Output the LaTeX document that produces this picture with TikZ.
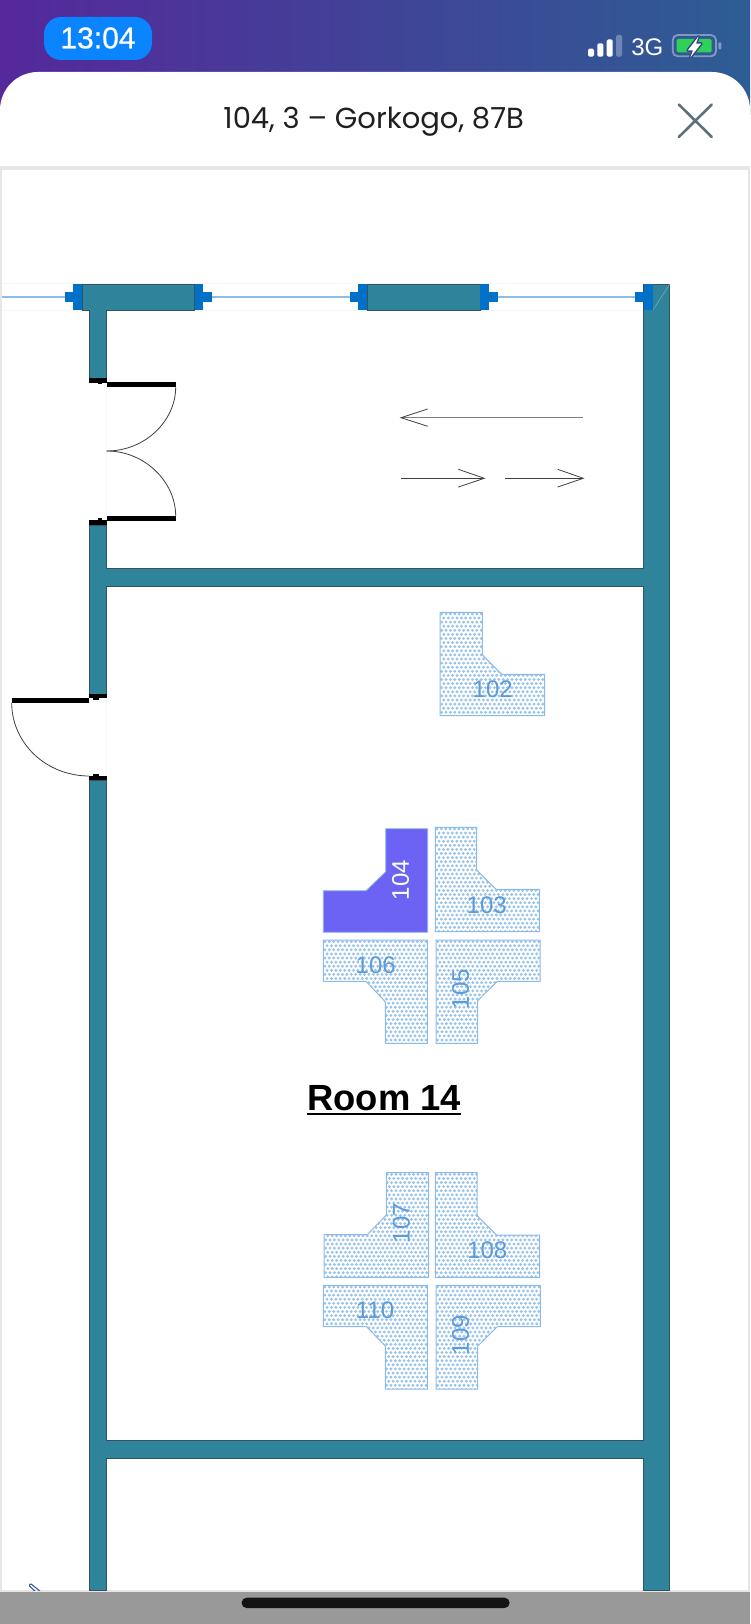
\documentclass[tikz,border=0pt]{standalone}
\usepackage{fontspec}
\setmainfont{Liberation Sans}
\newfontfamily\titlefont{Poppins}
\newfontfamily\clockfont[FakeBold=0.7]{Liberation Sans}
\definecolor{wallc}{HTML}{2F849B}
\definecolor{walle}{HTML}{35535E}
\definecolor{capc}{HTML}{0070C8}
\definecolor{wirec}{HTML}{8DBDE4}
\definecolor{deskdot}{HTML}{9AC3EC}
\definecolor{deske}{HTML}{8CBBE8}
\definecolor{desktxt}{HTML}{5B9BD9}
\definecolor{deskon}{HTML}{6C63F5}
\definecolor{framec}{HTML}{E6E6E6}
\definecolor{barc}{HTML}{999999}
\definecolor{faintc}{HTML}{F7F7F7}
\definecolor{xc}{HTML}{5A7278}
\definecolor{batc}{HTML}{8298C0}
\definecolor{gradl}{HTML}{55289B}
\definecolor{gradm}{HTML}{40408F}
\definecolor{gradr}{HTML}{2D5D94}
\definecolor{pillc}{HTML}{0A84FF}
\definecolor{greenc}{HTML}{30D158}
\definecolor{boltc}{HTML}{32468C}
\definecolor{markc}{HTML}{325FA0}
\definecolor{homec}{HTML}{141414}
\tikzset{
  x=1pt,y=-1pt,
  wallshape/.style={fill=wallc,draw=walle,line width=0.9pt},
  capshape/.style={fill=capc,draw=none},
  blackbar/.style={fill=black,draw=none},
  swing/.style={draw=black!75,line width=0.8pt},
  wire/.style={draw=wirec,line width=1.8pt},
  faint/.style={draw=faintc,line width=0.8pt},
  thinarrow/.style={draw=black!75,line width=0.8pt},
  deskedge/.style={draw=deske,line width=1pt},
  desklabel/.style={text=desktxt,font=\fontsize{24}{24}\selectfont,inner sep=0pt},
}
% #1 polygon, #2 x0, #3 y0, #4 x1, #5 y1
\newcommand{\deskdots}[5]{%
  \begin{scope}
    \clip #1;
    \foreach \i in {0,...,24}{
      \foreach \j in {0,...,26}{
        \pgfmathsetmacro{\px}{#2+1.6+\i*4.4+mod(\j,2)*2.2}
        \pgfmathsetmacro{\py}{#3+1.6+\j*4.1}
        \fill[deskdot] (\px,\py) circle[radius=1.6pt];
      }
    }
  \end{scope}
  \draw[deskedge] #1;
}
\begin{document}
\begin{tikzpicture}
\useasboundingbox (0,0) rectangle (750,1624);
\fill[white] (0,0) rectangle (750,1624);
% header
\shade[left color=gradl,middle color=gradm,right color=gradr] (0,0) rectangle (750,115);
\fill[white] (0,115) -- (0,110) .. controls (0,89) and (17,72) .. (38,72) -- (712,72) .. controls (733,72) and (750,89) .. (750,110) -- (750,115) -- cycle;
\fill[white] (0,110) rectangle (750,166);
% status bar
\fill[pillc,rounded corners=17pt] (44,17) rectangle (152,60);
\node[text=white,font=\clockfont\fontsize{30}{30}\selectfont,inner sep=0pt] (clock) at (98,38) {13:04};
\fill[white,rounded corners=1.5pt] (588,48.7) rectangle (594,56.7);
\fill[white,rounded corners=1.5pt] (597.3,43.3) rectangle (603.3,56.7);
\fill[white,rounded corners=1.5pt] (606.7,39.3) rectangle (612.7,56.7);
\fill[batc,rounded corners=1.5pt,opacity=0.75] (616,35) rectangle (622,56.7);
\node[text=white,font=\fontsize{24}{24}\selectfont,inner sep=0pt] (net) at (647.3,47.3) {3G};
\draw[batc,line width=1.8pt,rounded corners=5pt] (672.7,35) rectangle (716,56.3);
\fill[greenc,rounded corners=1.5pt] (676.7,39) rectangle (711.7,52.3);
\fill[batc,rounded corners=1pt] (718.3,42.3) rectangle (721.3,49.3);
\fill[white,preaction={draw=boltc,line width=3pt,line join=round}] (698.5,36.5) -- (687.8,50.4) -- (693,50.4) -- (690.3,57.5) -- (701.2,43.6) -- (696,43.6) -- cycle;
% title bar
\node[text=black!88,font=\titlefont\fontsize{29}{29}\selectfont,inner sep=0pt,anchor=base] (title) at (373.7,129) {104, 3 – Gorkogo, 87B};
\draw[xc,line width=2.6pt,line cap=round] (678.8,104.5) -- (711.8,137);
\draw[xc,line width=2.6pt,line cap=round] (711.8,104.5) -- (678.8,137);
% frame
\fill[framec] (0,166) rectangle (750,170);
\fill[framec] (0,170) rectangle (2,1590);
\fill[framec] (748,170) rectangle (750,1590);
\fill[framec] (0,1590) rectangle (750,1592);
% faint guide lines
\draw[faint] (2,283.5) -- (644,283.5);
\draw[faint] (2,310.5) -- (644,310.5);
\draw[faint] (106.7,385) -- (106.7,516);
\draw[faint] (106.7,700) -- (106.7,776);
% wire
\draw[wire] (2,296.7) -- (66,296.7);
\draw[wire] (212,296.7) -- (350,296.7);
\draw[wire] (497,296.7) -- (636,296.7);
% walls
\path[wallshape] (643.5,284) rectangle (669.8,1590);
\draw[wallc!70!white,line width=0.6pt] (653,310) -- (669.8,284);
\path[wallshape] (82.3,284) -- (194.7,284) -- (194.7,310) -- (106.7,310) -- (106.7,378) -- (89.3,378) -- (89.3,310) -- (82.3,310) -- cycle;
\path[wallshape] (367.5,284) rectangle (480,310);
\path[wallshape] (89.3,525) -- (106.7,525) -- (106.7,568.7) -- (643.5,568.7) -- (643.5,586.3) -- (106.7,586.3) -- (106.7,694) -- (89.3,694) -- cycle;
\path[wallshape] (89.3,1590) -- (89.3,780.3) -- (106.7,780.3) -- (106.7,1440.3) -- (643.5,1440.3) -- (643.5,1458.3) -- (106.7,1458.3) -- (106.7,1590) -- cycle;
\fill[wallc] (642.5,1441) rectangle (645,1458);
\fill[wallc] (642.5,569.3) rectangle (645,586);
% window caps
\path[capshape] (73.3,283.7) rectangle (82,310.3);
\path[capshape] (64.7,292.3) rectangle (73.3,301.7);
\path[capshape] (195,283.7) rectangle (203.3,310.3);
\path[capshape] (203.3,292.3) rectangle (212.3,301.7);
\path[capshape] (358,283.7) rectangle (367.2,310.3);
\path[capshape] (349.8,292.3) rectangle (358,301.7);
\path[capshape] (480.3,283.7) rectangle (488.5,310.3);
\path[capshape] (488.5,292.3) rectangle (497.6,301.7);
\path[capshape] (643.5,283.7) rectangle (653,310.3);
\path[capshape] (635,292.3) rectangle (643.5,301.7);
% doors
\path[blackbar] (89.3,378) rectangle (106.7,382.7);
\path[blackbar] (98.3,382) rectangle (102.3,384.3);
\path[blackbar] (106.7,382.3) rectangle (175.7,387);
\path[blackbar] (106.7,516) rectangle (175.7,520.7);
\path[blackbar] (89.3,520.3) rectangle (106.7,525);
\path[blackbar] (98,518.3) rectangle (102,521);
\draw[swing] (175.7,387) .. controls (175.7,421) and (145,451) .. (106.7,451);
\draw[swing] (175.7,516) .. controls (175.7,482) and (145,451) .. (106.7,451);
\path[blackbar] (89.3,694) rectangle (106.7,698.3);
\path[blackbar] (93.3,698) rectangle (98.7,700.3);
\path[blackbar] (11.7,698.3) rectangle (89.3,702.7);
\draw[swing] (11.7,702.7) .. controls (11.7,743) and (46,776) .. (89.3,776);
\path[blackbar] (89.3,776) rectangle (106.7,780.3);
\path[blackbar] (93.3,774.3) rectangle (98.7,776.5);
% arrows
\draw[thinarrow,draw=black!50,line width=1pt] (401,417.7) -- (583.3,417.7);
\draw[thinarrow] (427.7,409) -- (401,417.7) -- (427.7,426.3);
\draw[thinarrow] (401,478.3) -- (484.3,478.3);
\draw[thinarrow] (458.3,469.3) -- (484.3,478.3) -- (458.3,487);
\draw[thinarrow] (505,478.3) -- (583.3,478.3);
\draw[thinarrow] (557.7,469.3) -- (583.3,478.3) -- (557.7,487);
% desks
\deskdots{(440,612.3) -- (482.3,612.3) -- (482.3,655) -- (501.7,674.3) -- (544.7,674.3) -- (544.7,715.7) -- (440,715.7) -- cycle}{440}{612.3}{544.7}{715.7}
\node[desklabel] (d102) at (492.7,689) {102};
\deskdots{(435.3,827.3) -- (476.7,827.3) -- (476.7,870) -- (496,889.3) -- (539.3,889.3) -- (539.3,931.7) -- (435.3,931.7) -- cycle}{435.3}{827.3}{539.3}{931.7}
\node[desklabel] (d103) at (486.7,905) {103};
\fill[deskon] (427.7,828.7) -- (427.7,932.3) -- (323.3,932.3) -- (323.3,890.7) -- (366,890.7) -- (385.7,871.7) -- (385.7,828.7) -- cycle;
\draw[deske,line width=0.8pt] (427.7,828.7) -- (427.7,932.3) -- (323.3,932.3) -- (323.3,890.7) -- (366,890.7) -- (385.7,871.7) -- (385.7,828.7) -- cycle;
\node[desklabel,text=white,rotate=90] (d104) at (400.7,880) {104};
\deskdots{(323.3,940) -- (427.3,940) -- (427.3,1043.3) -- (385.3,1043.3) -- (385.3,1001.7) -- (366,981.3) -- (323.3,981.3) -- cycle}{323.3}{940}{427.3}{1043.3}
\node[desklabel] (d106) at (375.7,965) {106};
\deskdots{(436,940) -- (540,940) -- (540,981.3) -- (497.3,981.3) -- (477.7,1000.7) -- (477.7,1043.3) -- (436,1043.3) -- cycle}{436}{940}{540}{1043.3}
\node[desklabel,rotate=90] (d105) at (460.7,989.3) {105};
\deskdots{(428.7,1172.7) -- (428.7,1277.3) -- (324,1277.3) -- (324,1234.7) -- (367.3,1234.7) -- (386.3,1215) -- (386.3,1172.7) -- cycle}{324}{1172.7}{428.7}{1277.3}
\node[desklabel,rotate=90] (d107) at (401.3,1223.3) {107};
\deskdots{(435.3,1172.7) -- (477,1172.7) -- (477,1215.7) -- (496.7,1235) -- (539.7,1235) -- (539.7,1277.3) -- (435.3,1277.3) -- cycle}{435.3}{1172.7}{539.7}{1277.3}
\node[desklabel] (d108) at (487.3,1250.7) {108};
\deskdots{(323.3,1285.3) -- (427.3,1285.3) -- (427.3,1389) -- (385.3,1389) -- (385.3,1346) -- (366.7,1326.7) -- (323.3,1326.7) -- cycle}{323.3}{1285.3}{427.3}{1389}
\node[desklabel] (d110) at (375,1310) {110};
\deskdots{(436,1285.3) -- (540.3,1285.3) -- (540.3,1326.7) -- (497.3,1326.7) -- (477.7,1346) -- (477.7,1389) -- (436,1389) -- cycle}{436}{1285.3}{540.3}{1389}
\node[desklabel,rotate=90] (d109) at (460.7,1335) {109};
% room label
\node[text=black,font=\bfseries\fontsize{36.4}{36.4}\selectfont,inner sep=0pt,anchor=base] (room) at (384.2,1110.7) {Room 14};
\draw[black,line width=2.3pt] (room.base west |- 0,1113.9) -- (room.base east |- 0,1113.9);
% small mark bottom-left
\begin{scope}
  \clip (20,1578) rectangle (50,1590);
  \draw[markc,line width=1.1pt,rounded corners=1pt] (38,1594) -- (29,1585.5) -- (30.5,1583.5) -- (41,1592);
\end{scope}
% bottom bar
\fill[barc] (0,1592) rectangle (750,1624);
\fill[homec,rounded corners=5pt] (241.6,1597.7) rectangle (509.6,1608);
\end{tikzpicture}
\end{document}
